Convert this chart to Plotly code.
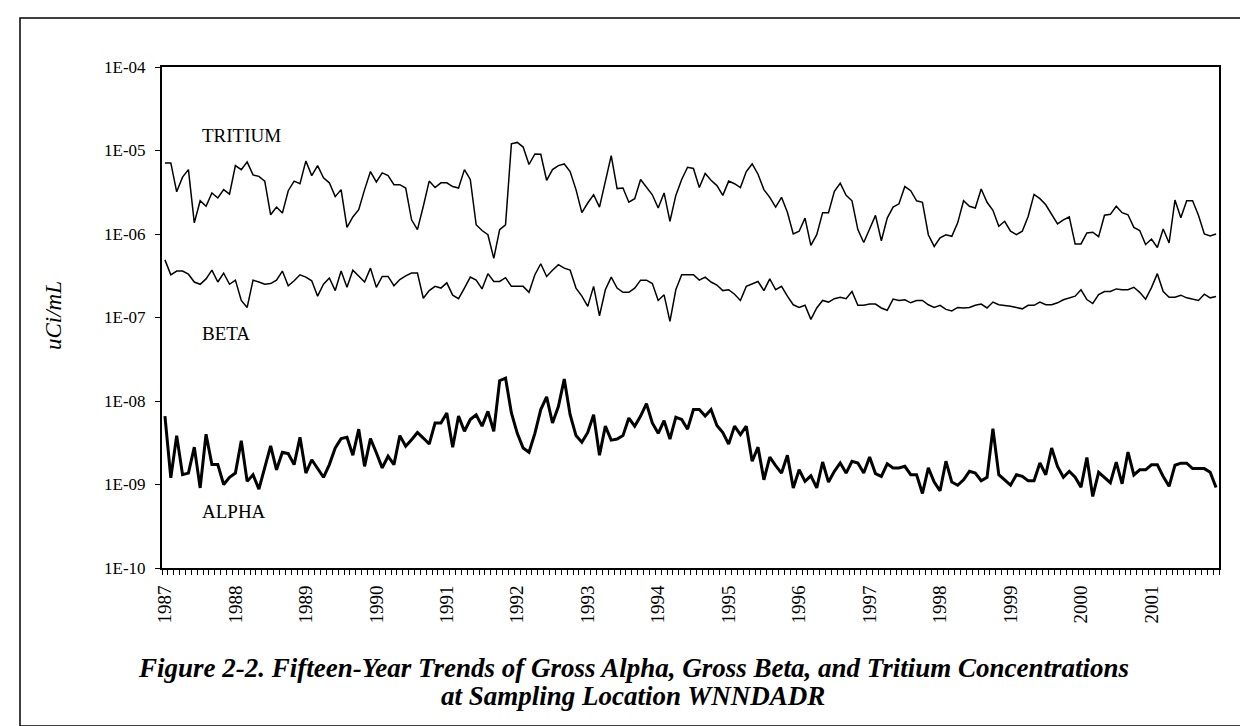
import plotly.graph_objects as go

years = [str(y) for y in range(1987, 2002)]
n_months = 180
months = list(range(n_months))

tritium_e6 = [
    7.1, 7.1, 3.2, 4.8, 5.9, 1.36, 2.5, 2.15, 3.1, 2.7, 3.4, 3.0,
    6.6, 5.9, 7.3, 5.1, 4.9, 4.3, 1.7, 2.1, 1.78, 3.3, 4.3, 4.0,
    7.5, 5.0, 6.6, 4.7, 4.1, 2.8, 3.4, 1.2, 1.6, 1.96, 3.4, 5.6,
    4.2, 5.4, 5.0, 3.9, 3.9, 3.55, 1.48, 1.13, 2.15, 4.3, 3.6, 4.1,
    4.1, 3.7, 3.55, 5.9, 4.5, 1.29, 1.1, 0.98, 0.51, 1.13, 1.29, 12.0,
    12.5, 11.0, 6.8, 9.1, 9.0, 4.4, 5.9, 6.6, 6.9, 5.6, 3.4, 1.8,
    2.35, 2.95, 2.1, 4.1, 8.7, 3.5, 3.55, 2.4, 2.65, 4.5, 3.7, 2.95,
    2.05, 3.1, 1.42, 2.9, 4.5, 6.3, 6.1, 3.6, 5.3, 4.4, 3.8, 2.9,
    4.3, 4.0, 3.6, 5.6, 6.9, 5.2, 3.4, 2.75, 2.1, 2.75, 1.82, 1.0,
    1.08, 1.55, 0.73, 0.98, 1.8, 1.8, 3.25, 4.05, 2.9, 2.5, 1.13, 0.79,
    1.15, 1.67, 0.83, 1.55, 2.1, 2.3, 3.7, 3.3, 2.5, 2.4, 0.98, 0.71,
    0.9, 0.98, 0.94, 1.36, 2.5, 2.15, 2.05, 3.46, 2.4, 1.92, 1.24, 1.42,
    1.08, 0.98, 1.08, 1.62, 2.98, 2.65, 2.24, 1.75, 1.32, 1.48, 1.6, 0.76,
    0.76, 1.03, 1.05, 0.93, 1.68, 1.72, 2.15, 1.8, 1.7, 1.2, 1.1, 0.75,
    0.87, 0.69, 1.15, 0.78, 2.55, 1.57, 2.5, 2.5, 1.68, 1.0, 0.95, 1.0,
]

beta_e7 = [
    4.9, 3.25, 3.6, 3.6, 3.3, 2.66, 2.5, 2.9, 3.7, 2.66, 3.4, 2.5,
    2.8, 1.6, 1.32, 2.8, 2.66, 2.5, 2.55, 2.8, 3.6, 2.4, 2.75, 3.25,
    3.05, 2.75, 1.8, 2.5, 2.97, 2.1, 3.6, 2.3, 3.68, 3.1, 2.66, 3.9,
    2.3, 3.1, 3.1, 2.4, 2.85, 3.15, 3.4, 3.4, 1.7, 2.1, 2.36, 2.25,
    2.6, 1.85, 1.68, 2.25, 3.05, 2.8, 2.2, 3.35, 2.7, 2.7, 3.0, 2.36,
    2.36, 2.36, 2.0, 3.25, 4.4, 3.1, 3.68, 4.3, 3.9, 3.7, 2.25, 1.8,
    1.36, 2.36, 1.05, 2.15, 3.05, 2.25, 2.0, 2.0, 2.25, 2.8, 2.8, 2.55,
    1.6, 1.87, 0.9, 2.15, 3.25, 3.25, 3.25, 2.8, 3.05, 2.66, 2.45, 2.1,
    2.15, 1.9, 1.6, 2.36, 2.55, 2.7, 2.1, 2.9, 2.15, 2.36, 1.8, 1.42,
    1.32, 1.4, 0.95, 1.3, 1.6, 1.53, 1.68, 1.75, 1.68, 2.05, 1.4, 1.4,
    1.45, 1.45, 1.3, 1.22, 1.66, 1.6, 1.63, 1.5, 1.6, 1.6, 1.42, 1.32,
    1.4, 1.25, 1.2, 1.32, 1.3, 1.32, 1.4, 1.45, 1.3, 1.53, 1.42, 1.4,
    1.36, 1.32, 1.27, 1.4, 1.4, 1.53, 1.42, 1.42, 1.5, 1.63, 1.7, 1.8,
    2.15, 1.64, 1.47, 1.88, 2.05, 2.05, 2.2, 2.15, 2.15, 2.3, 2.0, 1.66,
    2.28, 3.35, 2.05, 1.75, 1.75, 1.85, 1.72, 1.65, 1.6, 1.9, 1.72, 1.78,
]

alpha_e9 = [
    6.6, 1.2, 3.85, 1.31, 1.37, 2.8, 0.91, 4.0, 1.73, 1.73, 1.0, 1.22,
    1.37, 3.35, 1.09, 1.31, 0.88, 1.65, 2.9, 1.5, 2.43, 2.34, 1.73, 3.67,
    1.37, 1.98, 1.58, 1.22, 1.73, 2.74, 3.54, 3.67, 2.24, 4.6, 1.65, 3.54,
    2.4, 1.58, 2.18, 1.73, 3.85, 2.87, 3.44, 4.2, 3.6, 3.05, 5.45, 5.45,
    7.2, 2.8, 6.6, 4.34, 6.0, 6.85, 5.0, 7.5, 4.34, 17.5, 18.8, 7.2,
    4.1, 2.74, 2.43, 4.1, 7.9, 11.2, 5.45, 8.6, 18.3, 6.85, 3.85, 3.2,
    4.2, 6.85, 2.24, 5.0, 3.4, 3.5, 3.85, 6.25, 5.0, 6.6, 9.3, 5.45,
    4.1, 5.8, 3.5, 6.4, 6.0, 4.6, 7.9, 7.9, 6.6, 7.9, 5.1, 4.2,
    3.05, 5.0, 3.95, 5.0, 1.9, 2.8, 1.14, 2.13, 1.68, 1.37, 2.24, 0.91,
    1.5, 1.09, 1.27, 0.91, 1.86, 1.07, 1.44, 1.81, 1.37, 1.9, 1.81, 1.37,
    2.13, 1.35, 1.25, 1.77, 1.58, 1.58, 1.65, 1.31, 1.31, 0.78, 1.58, 1.07,
    0.84, 1.9, 1.07, 0.98, 1.14, 1.44, 1.37, 1.11, 1.22, 4.65, 1.31, 1.14,
    0.98, 1.31, 1.25, 1.11, 1.11, 1.81, 1.31, 2.74, 1.65, 1.22, 1.44, 1.22,
    0.93, 2.1, 0.72, 1.4, 1.2, 1.05, 1.85, 1.02, 2.45, 1.3, 1.5, 1.5,
    1.72, 1.72, 1.25, 0.95, 1.7, 1.8, 1.8, 1.55, 1.55, 1.55, 1.4, 0.92,
]

tritium = [v * 1e-6 for v in tritium_e6]
beta = [v * 1e-7 for v in beta_e7]
alpha = [v * 1e-9 for v in alpha_e9]

y_tickvals = [1e-10, 1e-9, 1e-8, 1e-7, 1e-6, 1e-5, 1e-4]
y_ticktext = ["1E-10", "1E-09", "1E-08", "1E-07", "1E-06", "1E-05", "1E-04"]

SERIF = "Liberation Serif, Times New Roman, serif"

fig = go.Figure()
fig.add_trace(go.Scatter(x=months, y=tritium, mode="lines", name="TRITIUM",
                         line=dict(color="black", width=1.5)))
fig.add_trace(go.Scatter(x=months, y=beta, mode="lines", name="BETA",
                         line=dict(color="black", width=1.5)))
fig.add_trace(go.Scatter(x=months, y=alpha, mode="lines", name="ALPHA",
                         line=dict(color="black", width=3)))

W, H = 1248, 726
L, R, T, B = 154, 37, 59, 166
pw, ph = W - L - R, H - T - B


def px_x(px):
    return (px - L) / pw


def px_y(py):
    return (H - B - py) / ph


fig.update_layout(
    width=W, height=H,
    margin=dict(l=L, r=R, t=T, b=B),
    paper_bgcolor="white", plot_bgcolor="white",
    showlegend=False,
    font=dict(family=SERIF, color="black"),
    xaxis=dict(
        range=[-0.5, n_months - 0.5],
        tickmode="array",
        tickvals=[12 * k for k in range(len(years))],
        ticktext=years,
        tickangle=-90,
        ticks="",
        ticklabelstandoff=8,
        tickfont=dict(family=SERIF, size=19, color="black"),
        showgrid=False, zeroline=False,
        showline=True, linecolor="black", linewidth=2, mirror=True,
        minor=dict(tick0=-0.5, dtick=1, ticks="outside", ticklen=5,
                   tickcolor="black", tickwidth=1, showgrid=False),
    ),
    yaxis=dict(
        type="log",
        range=[-10, -4],
        tickmode="array",
        tickvals=y_tickvals,
        ticktext=y_ticktext,
        ticks="outside", ticklen=5, tickcolor="black", tickwidth=1,
        ticklabelstandoff=6,
        tickfont=dict(family=SERIF, size=17, color="black"),
        showgrid=False, zeroline=False,
        showline=True, linecolor="black", linewidth=2, mirror=True,
    ),
)

label_font = dict(family=SERIF, size=19, color="black")
for text, py in [("TRITIUM", 127), ("BETA", 325), ("ALPHA", 503)]:
    fig.add_annotation(xref="paper", yref="paper", x=px_x(192), y=px_y(py),
                       text=text, showarrow=False, xanchor="left",
                       yanchor="middle", font=label_font)

fig.add_annotation(xref="paper", yref="paper", x=px_x(45), y=px_y(308),
                   text="<i>uCi/mL</i>", textangle=-90, showarrow=False,
                   xanchor="center", yanchor="middle",
                   font=dict(family=SERIF, size=23, color="black"))

cap_font = dict(family=SERIF, size=27, color="black")
fig.add_annotation(xref="paper", yref="paper", x=px_x(625), y=px_y(660),
                   text="<b><i>Figure 2-2. Fifteen-Year Trends of Gross Alpha, Gross Beta, and Tritium Concentrations</i></b>",
                   showarrow=False, xanchor="center", yanchor="middle", font=cap_font)
fig.add_annotation(xref="paper", yref="paper", x=px_x(625), y=px_y(688),
                   text="<b><i>at Sampling Location WNNDADR</i></b>",
                   showarrow=False, xanchor="center", yanchor="middle", font=cap_font)

fig.add_shape(type="rect", xref="paper", yref="paper",
              x0=px_x(12), x1=px_x(1236), y0=px_y(718), y1=px_y(10),
              line=dict(color="black", width=1.5), fillcolor="rgba(0,0,0,0)",
              layer="above")

fig.write_html("out.html")
